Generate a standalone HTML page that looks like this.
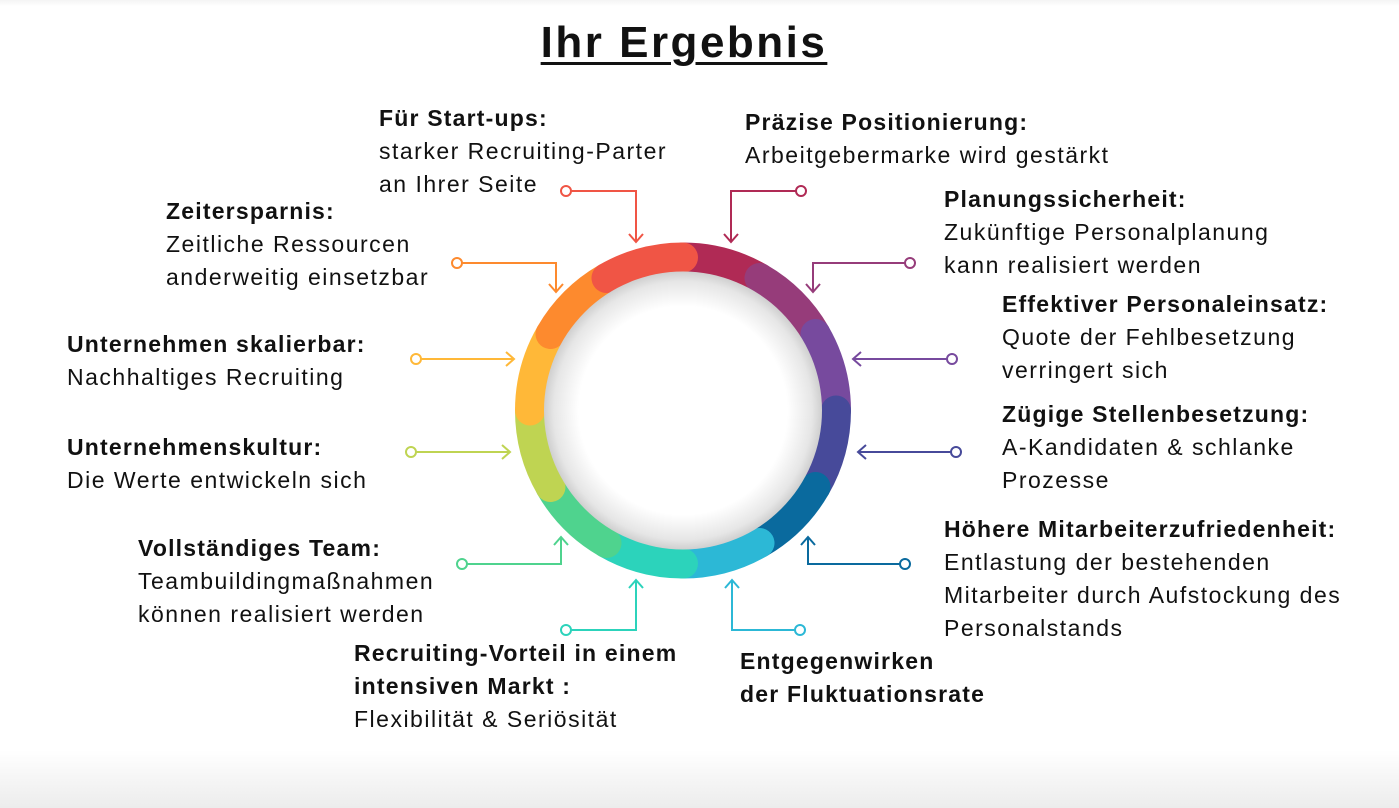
<!DOCTYPE html>
<html><head><meta charset="utf-8">
<style>
html,body{margin:0;padding:0;}
body{width:1399px;height:808px;position:relative;overflow:hidden;background:linear-gradient(to bottom,#f4f4f4 0px,#fff 6px,#fff 750px,#ececec 808px);font-family:"Liberation Sans",sans-serif;color:#111;}
.t{position:absolute;font-size:23px;line-height:33px;letter-spacing:1.5px;white-space:nowrap;}
.t b{font-weight:bold;letter-spacing:1.2px;}
h1{position:absolute;left:0;width:1368px;top:18px;margin:0;text-align:center;font-size:44px;font-weight:bold;text-decoration:underline;text-decoration-thickness:3px;text-underline-offset:5px;letter-spacing:2.5px;}
svg{position:absolute;left:0;top:0;}
</style></head><body>
<h1>Ihr Ergebnis</h1>
<svg width="1399" height="808" viewBox="0 0 1399 808">
<defs>
<radialGradient id="ig" cx="50%" cy="50%" r="50%">
<stop offset="0.75" stop-color="#ffffff"/><stop offset="0.93" stop-color="#e6e6e6"/><stop offset="1" stop-color="#cfcfcf"/>
</radialGradient>
</defs>
<g fill="none" stroke-width="30" stroke-linecap="round">
<path d="M683,257.5 A153,153 0 0 1 759.5,278" stroke="#b02a55"/>
<path d="M759.5,278 A153,153 0 0 1 815.5,334" stroke="#963c7a"/>
<path d="M815.5,334 A153,153 0 0 1 836,410.5" stroke="#774a9e"/>
<path d="M836,410.5 A153,153 0 0 1 815.5,487" stroke="#474a9a"/>
<path d="M815.5,487 A153,153 0 0 1 759.5,543" stroke="#0a6a9e"/>
<path d="M759.5,543 A153,153 0 0 1 683,563.5" stroke="#2cb8d6"/>
<path d="M683,563.5 A153,153 0 0 1 606.5,543" stroke="#2cd3bb"/>
<path d="M606.5,543 A153,153 0 0 1 550.5,487" stroke="#4fd38e"/>
<path d="M550.5,487 A153,153 0 0 1 530,410.5" stroke="#bfd452"/>
<path d="M530,410.5 A153,153 0 0 1 550.5,334" stroke="#ffb838"/>
<path d="M550.5,334 A153,153 0 0 1 606.5,278" stroke="#fd8a2e"/>
<path d="M606.5,278 A153,153 0 0 1 683,257.5" stroke="#f05545"/>
</g>
<circle cx="683" cy="410.5" r="139" fill="url(#ig)"/>
<g fill="#fff" stroke-width="2">
<g stroke="#f05545"><polyline fill="none" points="571,191 636,191 636,242"/><polyline fill="none" points="629,234 636,242 643,234"/><circle cx="566" cy="191" r="5"/></g>
<g stroke="#b02a55"><polyline fill="none" points="796,191 731,191 731,242"/><polyline fill="none" points="724,234 731,242 738,234"/><circle cx="801" cy="191" r="5"/></g>
<g stroke="#963c7a"><polyline fill="none" points="905,263 813,263 813,292"/><polyline fill="none" points="806,284 813,292 820,284"/><circle cx="910" cy="263" r="5"/></g>
<g stroke="#774a9e"><polyline fill="none" points="947,359 853,359"/><polyline fill="none" points="861,352 853,359 861,366"/><circle cx="952" cy="359" r="5"/></g>
<g stroke="#474a9a"><polyline fill="none" points="951,452 858,452"/><polyline fill="none" points="866,445 858,452 866,459"/><circle cx="956" cy="452" r="5"/></g>
<g stroke="#0a6a9e"><polyline fill="none" points="900,564 808,564 808,537"/><polyline fill="none" points="801,545 808,537 815,545"/><circle cx="905" cy="564" r="5"/></g>
<g stroke="#2cb8d6"><polyline fill="none" points="795,630 732,630 732,580"/><polyline fill="none" points="725,588 732,580 739,588"/><circle cx="800" cy="630" r="5"/></g>
<g stroke="#2cd3bb"><polyline fill="none" points="571,630 636,630 636,580"/><polyline fill="none" points="629,588 636,580 643,588"/><circle cx="566" cy="630" r="5"/></g>
<g stroke="#4fd38e"><polyline fill="none" points="467,564 561,564 561,537"/><polyline fill="none" points="554,545 561,537 568,545"/><circle cx="462" cy="564" r="5"/></g>
<g stroke="#bfd452"><polyline fill="none" points="416,452 510,452"/><polyline fill="none" points="502,445 510,452 502,459"/><circle cx="411" cy="452" r="5"/></g>
<g stroke="#ffb838"><polyline fill="none" points="421,359 514,359"/><polyline fill="none" points="506,352 514,359 506,366"/><circle cx="416" cy="359" r="5"/></g>
<g stroke="#fd8a2e"><polyline fill="none" points="462,263 556,263 556,292"/><polyline fill="none" points="549,284 556,292 563,284"/><circle cx="457" cy="263" r="5"/></g>
</g>
</svg>
<div class="t" style="left:379px;top:102px"><b>Für Start-ups:</b><br>starker Recruiting-Parter<br>an Ihrer Seite</div>
<div class="t" style="left:745px;top:106px"><b>Präzise Positionierung:</b><br>Arbeitgebermarke wird gestärkt</div>
<div class="t" style="left:166px;top:195px"><b>Zeitersparnis:</b><br>Zeitliche Ressourcen<br>anderweitig einsetzbar</div>
<div class="t" style="left:944px;top:183px"><b>Planungssicherheit:</b><br>Zukünftige Personalplanung<br>kann realisiert werden</div>
<div class="t" style="left:1002px;top:288px"><b>Effektiver Personaleinsatz:</b><br>Quote der Fehlbesetzung<br>verringert sich</div>
<div class="t" style="left:67px;top:328px"><b>Unternehmen skalierbar:</b><br>Nachhaltiges Recruiting</div>
<div class="t" style="left:1002px;top:398px"><b>Zügige Stellenbesetzung:</b><br>A-Kandidaten &amp; schlanke<br>Prozesse</div>
<div class="t" style="left:67px;top:431px"><b>Unternehmenskultur:</b><br>Die Werte entwickeln sich</div>
<div class="t" style="left:944px;top:513px"><b>Höhere Mitarbeiterzufriedenheit:</b><br>Entlastung der bestehenden<br>Mitarbeiter durch Aufstockung des<br>Personalstands</div>
<div class="t" style="left:138px;top:532px"><b>Vollständiges Team:</b><br>Teambuildingmaßnahmen<br>können realisiert werden</div>
<div class="t" style="left:354px;top:637px"><b>Recruiting-Vorteil in einem<br>intensiven Markt :</b><br>Flexibilität &amp; Seriösität</div>
<div class="t" style="left:740px;top:645px"><b>Entgegenwirken<br>der Fluktuationsrate</b></div>
</body></html>
